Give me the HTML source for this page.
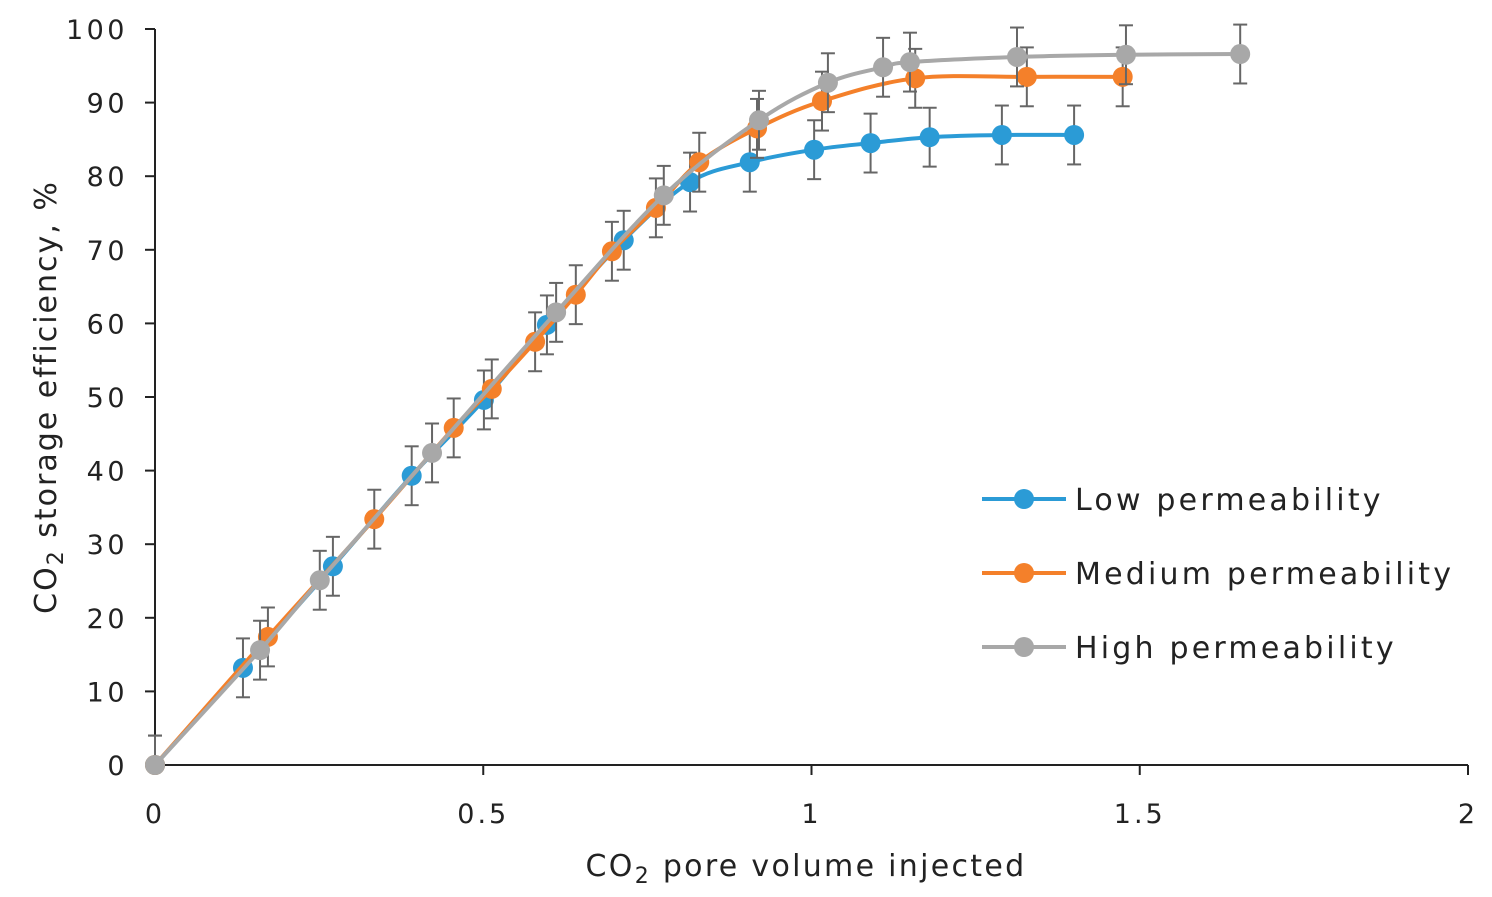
<!DOCTYPE html>
<html><head><meta charset="utf-8"><style>
html,body{margin:0;padding:0;background:#fff;}
svg{display:block;font-family:"DejaVu Sans","Liberation Sans",sans-serif;}
</style></head><body>
<svg id="chart" width="1492" height="897" viewBox="0 0 1492 897">
<g id="axes"></g>
<g id="series"></g>
<text x="806" y="876" font-size="30" text-anchor="middle" fill="#222" letter-spacing="2.3">CO<tspan font-size="22" dy="7">2</tspan><tspan dy="-7"> pore volume injected</tspan></text>
<text transform="translate(56,397) rotate(-90)" font-size="30" text-anchor="middle" fill="#222" letter-spacing="2">CO<tspan font-size="22" dy="7">2</tspan><tspan dy="-7"> storage efficiency, %</tspan></text>
<g id="legend"></g>
</svg>
<script>
const xTicks=[0,0.5,1,1.5,2];
const xTickLabels=["0","0.5","1","1.5","2"];
const yTicks=[0,10,20,30,40,50,60,70,80,90,100];
const seriesNames=["Low permeability","Medium permeability","High permeability"];
const lowX=[0,0.134,0.271,0.391,0.501,0.597,0.714,0.815,0.906,1.004,1.09,1.18,1.29,1.40];
const lowY=[0,13.2,27,39.3,49.6,59.8,71.3,79.2,81.9,83.6,84.5,85.3,85.6,85.6];
const medX=[0,0.172,0.334,0.455,0.513,0.579,0.641,0.696,0.763,0.829,0.917,1.016,1.158,1.328,1.474];
const medY=[0,17.4,33.4,45.8,51.1,57.5,63.9,69.8,75.7,81.9,86.5,90.2,93.3,93.5,93.5];
const highX=[0,0.16,0.251,0.422,0.611,0.775,0.92,1.025,1.109,1.15,1.313,1.479,1.653];
const highY=[0,15.6,25.1,42.4,61.5,77.4,87.6,92.7,94.8,95.5,96.2,96.5,96.6];
const errSize=4;
const colors=["#2b9bd6","#f4802a","#a8a8a8"];
const NS="http://www.w3.org/2000/svg";
const X=v=>155+v*656.5, Y=v=>765-v*7.36;
function mk(t,a,p){const e=document.createElementNS(NS,t);for(const k in a)e.setAttribute(k,a[k]);p.appendChild(e);return e;}
const axes=document.getElementById('axes');
let l=mk('line',{x1:155,y1:29,x2:155,y2:765,stroke:'#222','stroke-width':2},axes);

l=mk('line',{x1:155,y1:765,x2:1468,y2:765,stroke:'#222','stroke-width':2},axes);

xTicks.forEach((v,i)=>{
 const t=mk('line',{x1:X(v),y1:765,x2:X(v),y2:775,stroke:'#222','stroke-width':2},axes);
 
 const tx=mk('text',{x:X(v),y:823,'font-size':27,'text-anchor':'middle',fill:'#222','letter-spacing':3},axes);tx.textContent=xTickLabels[i];
 
});
yTicks.forEach(v=>{
 const t=mk('line',{x1:145,y1:Y(v),x2:155,y2:Y(v),stroke:'#222','stroke-width':2},axes);
 
 const tx=mk('text',{x:128,y:Y(v)+10,'font-size':27,'text-anchor':'end',fill:'#222','letter-spacing':3.5},axes);tx.textContent=String(v);
 
});
function smooth(px,py){
 let d='M'+px[0]+','+py[0];
 for(let i=0;i<px.length-1;i++){
  const x0=px[i-1]??px[i],y0=py[i-1]??py[i],x3=px[i+2]??px[i+1],y3=py[i+2]??py[i+1];
  const c1x=px[i]+(px[i+1]-x0)/6,c1y=py[i]+(py[i+1]-y0)/6;
  const c2x=px[i+1]-(x3-px[i])/6,c2y=py[i+1]-(y3-py[i])/6;
  d+=` C${c1x},${c1y} ${c2x},${c2y} ${px[i+1]},${py[i+1]}`;
 }
 return d;
}
const ser=document.getElementById('series');
const data=[[lowX,lowY],[medX,medY],[highX,highY]];
const keys=['low','medium','high'];
data.forEach(([xs,ys],s)=>{
 const g=mk('g',{},ser);
 
 xs.forEach((x,i)=>{
  const eg=mk('g',{stroke:'#666','stroke-width':2},g);
  
  const cx=X(x),top=Y(ys[i]+errSize),bot=Y(Math.max(ys[i]-errSize,0));
  mk('line',{x1:cx,y1:top,x2:cx,y2:bot},eg);
  mk('line',{x1:cx-7,y1:top,x2:cx+7,y2:top},eg);
  mk('line',{x1:cx-7,y1:bot,x2:cx+7,y2:bot},eg);
 });
 const p=mk('path',{d:smooth(xs.map(X),ys.map(Y)),fill:'none',stroke:colors[s],'stroke-width':4},g);
 
 xs.forEach((x,i)=>{
  const c=mk('circle',{cx:X(x),cy:Y(ys[i]),r:10,fill:colors[s]},g);
  
 });
});
const leg=document.getElementById('legend');
seriesNames.forEach((n,i)=>{
 const y=499+i*74;
 const g=mk('g',{},leg);
 
 mk('line',{x1:982,y1:y,x2:1066,y2:y,stroke:colors[i],'stroke-width':4},g);
 mk('circle',{cx:1024,cy:y,r:10,fill:colors[i]},g);
 const t=mk('text',{x:1075,y:y+11,'font-size':30,fill:'#222','letter-spacing':'3.2'},g);t.textContent=n;
});
</script>
</body></html>
